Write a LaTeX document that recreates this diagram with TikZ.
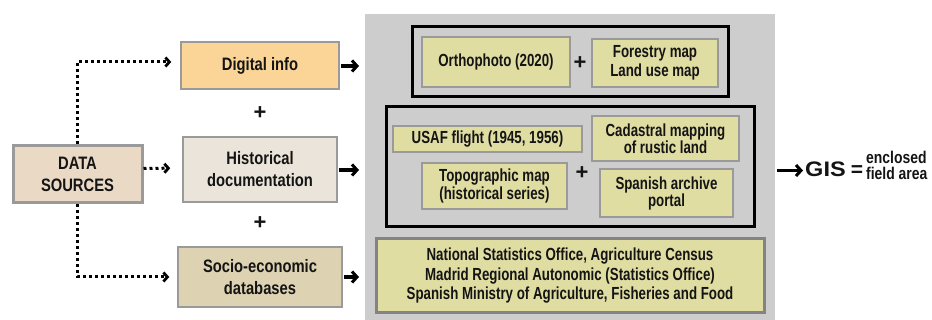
\documentclass[tikz,border=0pt]{standalone}
\usepackage{fontspec}
\setmainfont{Liberation Sans}[FakeStretch=0.76]
\newfontfamily\leftfont{Liberation Sans}[FakeStretch=0.82]
\newfontfamily\wide{Liberation Sans}
\usetikzlibrary{arrows.meta}
\definecolor{digfill}{HTML}{FBD597}
\definecolor{histfill}{HTML}{EAE4DA}
\definecolor{sociofill}{HTML}{DDD2B1}
\definecolor{dsfill}{HTML}{EAD9C5}
\definecolor{yfill}{HTML}{E0DDA2}
\definecolor{panelfill}{HTML}{CDCDCD}
\definecolor{bordergray}{HTML}{9A9A9A}
\definecolor{txt}{HTML}{141414}
\tikzset{
  leftbox/.style={draw=bordergray, line width=1.5pt, inner sep=0pt, align=center,
    font=\leftfont\bfseries\fontsize{18}{22}\selectfont, text=txt},
  ybox/.style={draw=bordergray, line width=1.5pt, fill=yfill, inner sep=0pt, align=center,
    font=\bfseries\fontsize{17.5}{17}\selectfont, text=txt},
  groupbox/.style={draw=black, line width=3pt, inner sep=0pt},
  plussign/.style={font=\wide\bfseries\fontsize{22}{22}\selectfont, text=txt, inner sep=0pt},
  solidarr/.style={line width=3.3pt, -{Straight Barb[length=5pt,width=11pt,line width=3pt]}},
  dotarr/.style={line width=3pt, dash pattern=on 3pt off 3pt,
    -{Straight Barb[length=4pt,width=9pt,line width=2.8pt]}},
}
\begin{document}
\begin{tikzpicture}[x=1pt,y=-1pt]
\useasboundingbox (0,0) rectangle (932,320);
% gray panel
\node[fill=panelfill, minimum width=410pt, minimum height=306pt, inner sep=0pt] (panel) at (570,167) {};
% left boxes
\node[leftbox, fill=digfill, minimum width=158pt, minimum height=47pt] (dig) at (260,65.5) {Digital info};
\node[leftbox, fill=histfill, minimum width=154pt, minimum height=65pt] (hist) at (260,169.5) {Historical\\documentation};
\node[leftbox, fill=sociofill, minimum width=164pt, minimum height=60pt] (socio) at (260,277) {Socio-economic\\databases};
\node[leftbox, fill=dsfill, line width=3pt, minimum width=129pt, minimum height=57pt] (ds) at (77.5,174.5) {DATA\\SOURCES};
\node[plussign] (p1) at (260,113) {+};
\node[plussign] (p2) at (260,223) {+};
% group 1
\node[groupbox, minimum width=316pt, minimum height=70pt] (g1) at (570,62) {};
\node[ybox, minimum width=148pt, minimum height=50pt] (ortho) at (496,62) {Orthophoto (2020)};
\node[plussign] (p3) at (580,63) {+};
\node[ybox, minimum width=126pt, minimum height=48pt, font=\bfseries\fontsize{17.5}{18.5}\selectfont] (forest) at (655,63) {Forestry map\\Land use map};
% group 2
\node[groupbox, minimum width=368pt, minimum height=120pt] (g2) at (570,167) {};
\node[ybox, minimum width=189pt, minimum height=26pt] (usaf) at (487.5,139) {USAF flight (1945, 1956)};
\node[ybox, minimum width=147pt, minimum height=45pt] (cad) at (665.5,138.5) {Cadastral mapping\\of rustic land};
\node[ybox, minimum width=145pt, minimum height=46pt, font=\bfseries\fontsize{17.5}{15.5}\selectfont] (topo) at (494.5,186) {Topographic map\\(historical series)};
\node[plussign] (p4) at (582,173) {+};
\node[ybox, minimum width=133pt, minimum height=48pt] (arch) at (666.5,193) {Spanish archive\\portal};
% bottom box
\node[ybox, line width=3pt, draw=bordergray!85!black, minimum width=388pt, minimum height=74pt, font=\bfseries\fontsize{17.5}{19.5}\selectfont] (stat) at (570,276)
  {National Statistics Office, Agriculture Census\\Madrid Regional Autonomic (Statistics Office)\\Spanish Ministry of Agriculture, Fisheries and Food};
% result
\node[anchor=west, inner sep=0pt, text=txt, font=\wide\bfseries\fontsize{21}{21}\selectfont] (gis) at (805,169.5) {\scalebox{1.12}[1]{GIS}};
\node[inner sep=0pt, text=txt, font=\wide\bfseries\fontsize{21}{21}\selectfont] (eq) at (857,171) {=};
\node[anchor=west, inner sep=0pt, align=left, text=txt, font=\leftfont\bfseries\fontsize{17}{16}\selectfont] (enc) at (866,165) {enclosed\\field area};
% connectors
\coordinate (e1) at (359,66);
\coordinate (e2) at (359,170);
\coordinate (e3) at (359,277);
\coordinate (e4) at (777,170.5);
\draw[solidarr] (dig.east) ++(1,0.5) -- (e1);
\draw[solidarr] (hist.east) ++(1,0.5) -- (e2);
\draw[solidarr] (socio.east) ++(1,0) -- (e3);
\draw[solidarr] (e4) -- ([xshift=-2pt,yshift=-1pt]gis.west);
\draw[dotarr, shorten >=9pt] (ds.north) |- ([yshift=3.5pt]dig.west);
\draw[dotarr, shorten >=12pt] ([yshift=6pt]ds.east) -- ([yshift=1.5pt]hist.west);
\draw[dotarr, shorten >=8pt] (ds.south) |- (socio.west);
\end{tikzpicture}
\end{document}
